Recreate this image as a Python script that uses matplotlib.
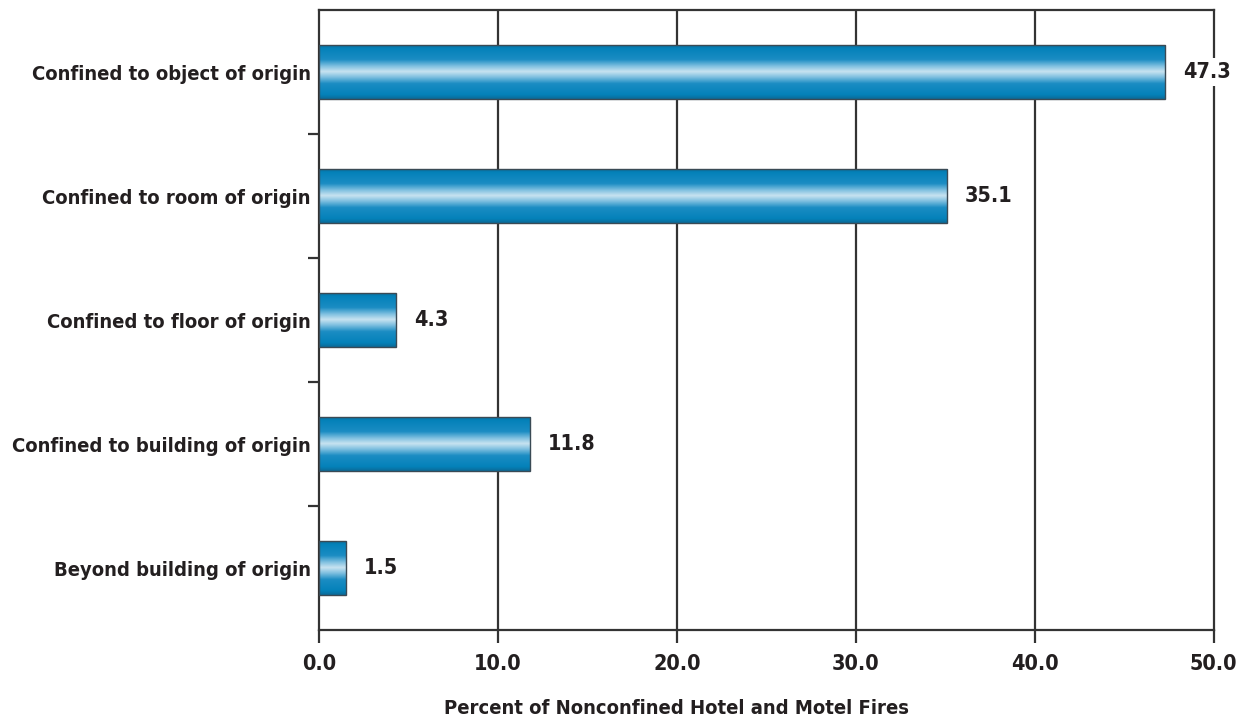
import numpy as np
import matplotlib
matplotlib.use("Agg")
import matplotlib.pyplot as plt
from matplotlib.colors import LinearSegmentedColormap
from matplotlib.patches import Rectangle

plt.rcParams['font.family'] = ['DejaVu Sans']
plt.rcParams['font.stretch'] = 'condensed'
plt.rcParams['font.weight'] = 'bold'

categories = [
    "Confined to object of origin",
    "Confined to room of origin",
    "Confined to floor of origin",
    "Confined to building of origin",
    "Beyond building of origin",
]
values = [47.3, 35.1, 4.3, 11.8, 1.5]
x_ticks = [0, 10, 20, 30, 40, 50]
x_tick_labels = ["0.0", "10.0", "20.0", "30.0", "40.0", "50.0"]
x_label = "Percent of Nonconfined Hotel and Motel Fires"

text_color = "#231f20"
line_color = "#333333"
fs = 14.5

# shading across the bar height: dark edges, pale centre
cmap = LinearSegmentedColormap.from_list(
    "tube",
    [(0.0, "#0b6a98"), (0.08, "#0482ba"), (0.28, "#1b8cc3"), (0.4, "#7fc0e0"),
     (0.5, "#c8e3f1"), (0.6, "#7fc0e0"), (0.72, "#1b8cc3"), (0.92, "#0482ba"),
     (1.0, "#0b6a98")],
)
grad = np.linspace(0, 1, 256).reshape(-1, 1)

fig = plt.figure(figsize=(12.41, 7.25), dpi=100)
ax = fig.add_axes([0.257, 0.131, 0.721, 0.855])

n = len(categories)
ypos = np.arange(n)
bar_h = 0.44

ax.set_xlim(0, 50)
ax.set_ylim(n - 0.5, -0.5)

for y, v in zip(ypos, values):
    y0 = y - bar_h / 2
    im = ax.imshow(grad, cmap=cmap, aspect="auto",
                   extent=(0, v, y0 + bar_h, y0), zorder=3,
                   interpolation="bilinear")
    rect = Rectangle((0, y0), v, bar_h, facecolor="none",
                     edgecolor="#3a4a55", linewidth=1.0, zorder=4)
    ax.add_patch(rect)
    im.set_clip_path(rect)
    ax.annotate(f"{v:.1f}", xy=(v, y), xytext=(13, 0), textcoords="offset points",
                ha="left", va="center", fontsize=fs + 1, fontweight="bold",
                color=text_color, zorder=6,
                bbox=dict(boxstyle="square,pad=0.2", facecolor="white",
                          edgecolor="none"))

ax.set_xlim(0, 50)
ax.set_ylim(n - 0.5, -0.5)

# vertical grid lines
for xt in x_ticks[1:-1]:
    ax.axvline(xt, color=line_color, linewidth=1.6, zorder=1)

for side in ["left", "right", "top", "bottom"]:
    ax.spines[side].set_color(line_color)
    ax.spines[side].set_linewidth(1.6)
ax.spines["right"].set_zorder(2)

ax.set_xticks(x_ticks)
ax.set_xticklabels(x_tick_labels, fontsize=fs + 1, fontweight="bold", color=text_color)
ax.tick_params(axis="x", direction="out", length=9, width=1.6, color=line_color, pad=8)

ax.set_yticks(ypos)
ax.set_yticklabels(categories, fontsize=fs, fontweight="bold", color=text_color)
ax.tick_params(axis="y", length=0, pad=6)
ax.set_yticks(np.arange(0.5, n - 0.5, 1.0), minor=True)
ax.tick_params(axis="y", which="minor", direction="out", length=8, width=1.6,
               color=line_color)

fig.text(0.545, 0.023, x_label, ha="center", va="center", fontsize=fs,
         fontweight="bold", color=text_color)

fig.savefig("out.png", dpi=100, facecolor="white")
